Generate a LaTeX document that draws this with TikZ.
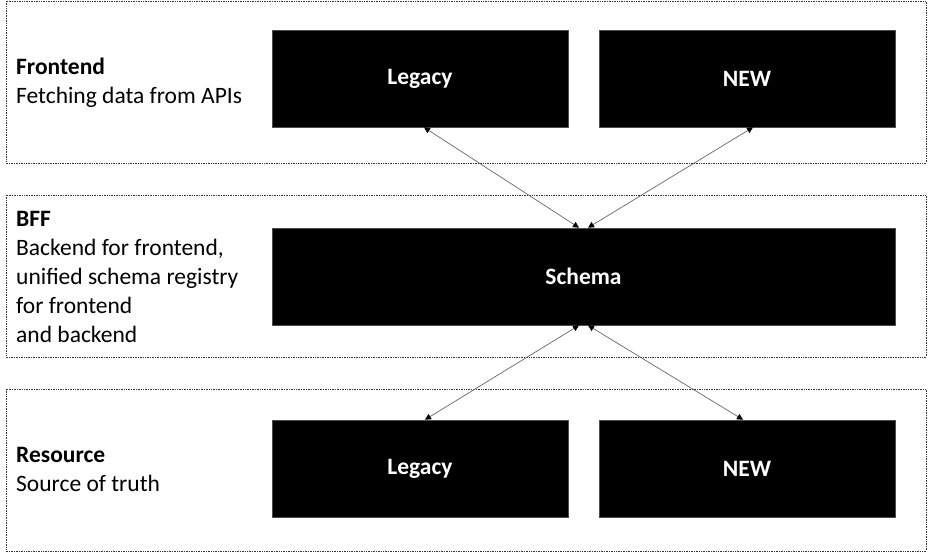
\documentclass[tikz,border=0pt]{standalone}
\usepackage{fontspec}
\setmainfont{Carlito}
\usetikzlibrary{arrows.meta}
\tikzset{
  layer/.style={draw=black!80, line width=0.8pt, dash pattern=on 0.8pt off 0.9pt},
  blk/.style={fill=black, draw=black!70, line width=0.6pt, text=white, font=\fontsize{23.5}{28}\selectfont\bfseries, inner sep=0pt},
  lbl/.style={anchor=base west, align=left, inner sep=0pt, font=\fontsize{23.5}{29}\selectfont},
  conn/.style={draw=black!60, line width=0.7pt, {Triangle[width=6pt,length=6pt,fill=black,color=black]}-{Triangle[width=6pt,length=6pt,fill=black,color=black]}}
}
\begin{document}
\begin{tikzpicture}[x=1pt,y=-1pt]
\useasboundingbox (0,0) rectangle (928,552);
% layer frames
\draw[layer] (6,1) rectangle (926,163);
\draw[layer] (6,195) rectangle (926,357);
\draw[layer] (6,389) rectangle (926,551);
% labels (anchored at the baseline of the last line)
\node[lbl] (lf) at (16,103.5) {\textbf{Frontend}\\Fetching data from APIs};
\node[lbl] (lb) at (16,342.5) {\textbf{BFF}\\Backend for frontend,\\unified schema registry\\for frontend\\and backend};
\node[lbl] (lr) at (16,491.5) {\textbf{Resource}\\Source of truth};
% blocks
\node[blk, minimum width=296pt, minimum height=97pt] (lt) at (420,78.5) {Legacy};
\node[blk, minimum width=296pt, minimum height=97pt] (nt) at (747,78.5) {NEW};
\node[blk, minimum width=623pt, minimum height=97pt] (sc) at (583.5,276.5) {Schema};
\node[blk, minimum width=296pt, minimum height=97pt] (lbo) at (420,468.5) {Legacy};
\node[blk, minimum width=296pt, minimum height=97pt] (nbo) at (747,468.5) {NEW};
% connectors
\draw[conn] ([xshift=4pt]lt.south) -- ([xshift=-4.5pt]sc.north);
\draw[conn] ([xshift=6pt]nt.south) -- ([xshift=4.5pt]sc.north);
\draw[conn] ([xshift=-4.5pt]sc.south) -- ([xshift=5pt]lbo.north);
\draw[conn] ([xshift=4.5pt]sc.south) -- ([xshift=-4pt]nbo.north);
\end{tikzpicture}
\end{document}
